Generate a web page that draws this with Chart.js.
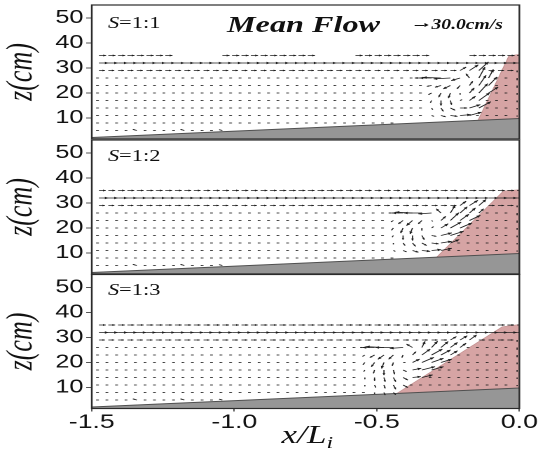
<!DOCTYPE html>
<html>
<head>
<meta charset="utf-8">
<script src="https://cdn.jsdelivr.net/npm/chart.js@4"></script>
<style>
html, body { margin: 0; padding: 0; background: #fff; overflow: hidden; }
/* the whole figure is laid out 384px wide and widened to 538px */
#fig { position: absolute; left: 0; top: 0; width: 384px; height: 450px;
       transform: scaleX(1.40104); transform-origin: 0 0; }
#fig canvas { position: absolute; left: 0; }
.lbl { position: absolute; white-space: nowrap; line-height: 1; color: #111;
       font-family: 'Liberation Serif', 'Times New Roman', serif; }
/* scale arrow of the velocity key */
.key-shaft { position: absolute; left: 296px; top: 25px; width: 7px; height: 0; border-top: 1px solid #111; }
.key-head { position: absolute; left: 302.5px; top: 23.3px; width: 0; height: 0;
            border-top: 2.2px solid transparent; border-bottom: 2.2px solid transparent; border-left: 3px solid #111; }
</style>
</head>
<body>
<div id="fig">
  <canvas id="p1" width="384" height="146" style="top:0px"></canvas>
  <canvas id="p2" width="384" height="146" style="top:135px"></canvas>
  <canvas id="p3" width="384" height="181" style="top:269px"></canvas>

  <div class="lbl" style="left:162px;top:12.7px;font-size:23px;font-weight:bold;font-style:italic">Mean Flow</div>
  <div class="key-shaft"></div>
  <div class="key-head"></div>
  <div class="lbl" style="left:308px;top:18.3px;font-size:14px;font-weight:bold;font-style:italic">30.0cm/s</div>

  <div class="lbl" style="left:77px;top:14.6px;font-size:16px"><i>S</i>=1:1</div>
  <div class="lbl" style="left:77px;top:147.6px;font-size:16px"><i>S</i>=1:2</div>
  <div class="lbl" style="left:77px;top:281.6px;font-size:16px"><i>S</i>=1:3</div>

  <div class="lbl" style="left:201px;top:422.4px;font-size:25px;font-style:italic">x/L<sub style="font-size:17px;vertical-align:-5px;line-height:1">i</sub></div>
</div>

<script>
// measuring grid: columns in x/L_i, rows in cm above the flume floor
var xCols = [-1.475, -1.442, -1.408, -1.375, -1.342, -1.308, -1.275, -1.242, -1.208,
             -1.175, -1.142, -1.108, -1.075, -1.042, -1.008, -0.975, -0.942, -0.908,
             -0.875, -0.842, -0.808, -0.775, -0.742, -0.708, -0.675, -0.642, -0.608,
             -0.575, -0.542, -0.508, -0.475, -0.442, -0.408, -0.375, -0.342, -0.308,
             -0.275, -0.242, -0.208, -0.175, -0.142, -0.108, -0.075, -0.042, -0.008];
var zRows = [35, 32, 29, 26, 23, 20, 17, 14, 11, 8, 5];

var xTicks = [-1.5, -1.0, -0.5, 0.0];
var zTicks = [10, 20, 30, 40, 50];

// sloping bed
var bedX = [-1.5, 0.0];
var bedZ = [2.2, 9.8];

// structure outline (toe, crest seaward, crest landward, heel)
var structX1 = [-0.145, -0.037, 0.0, 0.0];
var structZ1 = [9.07, 34.8, 35.5, 9.8];
var structX2 = [-0.29, -0.056, 0.0, 0.0];
var structZ2 = [8.33, 34.8, 35.3, 9.8];
var structX3 = [-0.43, -0.06, 0.0, 0.0];
var structZ3 = [7.62, 34.3, 35.2, 9.8];

// mean horizontal velocity away from the structure, one value per row (cm/s)
var rowU1 = [18, 24, 15, -7, -7, -7, -7, -7, -7, -7, -7];
var rowU2 = [17, 24, 15, -7, -7, -7, -7, -7, -7, -7, -7];
var rowU3 = [17, 24, 15, -7, -7, -7, -7, -7, -7, -7, -7];

// stretches of the top row that stay dry (x/L_i)
var dry1 = [[-1.22, -1.06], [-0.72, -0.60], [-0.32, -0.20]];
var dry2 = [];
var dry3 = [];

// measured vectors near the bed ripples and around the eddy: [column, row, u, w]
var nearBed = [[4, 10, -10, 4], [9, 10, -10, 4], [13, 10, -8, 3]];

var wallCol = [[44, 2, 0, -6], [44, 3, 0, -8], [44, 4, 0, -8], [44, 5, 0, -6], [44, 6, 0, -6], [44, 7, 0, -5], [44, 8, 0, -4]];

var eddy1 = [
  [38, 2, 15, 12], [39, 2, 22, 20], [40, 2, 24, 30],
  [34, 3, -18, 0], [35, 3, -30, 0], [36, 3, -45, 2], [37, 3, -42, -3], [38, 3, -22, -9], [39, 3, -9, 15], [40, 3, 15, 38], [41, 3, 12, 30],
  [35, 4, -12, -3], [36, 4, -15, -6], [37, 4, -18, -12], [38, 4, -8, -12], [39, 4, 8, 15], [40, 4, 18, 36], [41, 4, 21, 30],
  [35, 5, -8, -6], [36, 5, -6, -15], [37, 5, -5, -18], [38, 5, 0, -6], [39, 5, 12, 18], [40, 5, 22, 33], [41, 5, 24, 21],
  [35, 6, -3, -8], [36, 6, 0, -18], [37, 6, 3, -15], [38, 6, 5, 3], [39, 6, 15, 15], [40, 6, 27, 27],
  [35, 7, 3, -6], [36, 7, 6, -12], [37, 7, 12, -8], [38, 7, 18, 0], [39, 7, 27, 12], [40, 7, 30, 22],
  [35, 8, 6, -3], [36, 8, 12, -5], [37, 8, 18, -3], [38, 8, 27, 3], [39, 8, 30, 12]
];

var eddy2 = [
  [38, 2, 15, 15], [39, 2, 21, 18], [40, 2, 18, 21],
  [31, 3, -12, 0], [32, 3, -27, 0], [33, 3, -42, 3], [34, 3, -45, 0], [35, 3, -33, -3], [36, 3, -12, 15], [37, 3, 12, 27], [38, 3, 18, 22], [39, 3, 15, 18], [40, 3, 12, 15],
  [31, 4, -6, -5], [32, 4, -12, -12], [33, 4, -15, -18], [34, 4, -9, -12], [35, 4, 3, -3], [36, 4, 12, 15], [37, 4, 21, 27], [38, 4, 22, 22], [39, 4, 27, 18],
  [31, 5, -5, -8], [32, 5, -6, -18], [33, 5, -6, -21], [34, 5, 0, -9], [35, 5, 5, 5], [36, 5, 18, 15], [37, 5, 27, 21], [38, 5, 30, 18],
  [31, 6, -3, -6], [32, 6, 0, -15], [33, 6, 0, -18], [34, 6, 6, -15], [35, 6, 12, -3], [36, 6, 27, 9], [37, 6, 33, 15],
  [31, 7, 0, -5], [32, 7, 5, -9], [33, 7, 8, -12], [34, 7, 12, -9], [35, 7, 18, -3], [36, 7, 27, 6], [37, 7, 22, 12],
  [31, 8, 5, -3], [32, 8, 9, -5], [33, 8, 15, -6], [34, 8, 21, -3], [35, 8, 24, 3], [36, 8, 27, 8]
];

var eddy3 = [
  [37, 2, 15, 12], [38, 2, 18, 15], [39, 2, 18, 18],
  [28, 3, -12, 0], [29, 3, -30, 0], [30, 3, -45, 3], [31, 3, -45, 0], [32, 3, -33, -3], [33, 3, -15, 12], [34, 3, 8, 22], [35, 3, 15, 22], [36, 3, 18, 21], [37, 3, 18, 18], [38, 3, 15, 15],
  [28, 4, -6, -5], [29, 4, -12, -9], [30, 4, -15, -15], [31, 4, -12, -15], [32, 4, -3, -9], [33, 4, 9, 12], [34, 4, 21, 21], [35, 4, 27, 21], [36, 4, 24, 18], [37, 4, 18, 15],
  [28, 5, -5, -8], [29, 5, -8, -15], [30, 5, -6, -21], [31, 5, -3, -12], [32, 5, 6, 0], [33, 5, 18, 12], [34, 5, 30, 18], [35, 5, 30, 15], [36, 5, 27, 12],
  [28, 6, -3, -6], [29, 6, -3, -12], [30, 6, 0, -18], [31, 6, 3, -15], [32, 6, 9, -6], [33, 6, 22, 6], [34, 6, 33, 12], [35, 6, 30, 12],
  [28, 7, 0, -6], [29, 7, 0, -12], [30, 7, 3, -15], [31, 7, 6, -15], [32, 7, 12, -9], [33, 7, 21, 3], [34, 7, 27, 9],
  [28, 8, 0, -5], [29, 8, 3, -9], [30, 8, 3, -12], [31, 8, 6, -15], [32, 8, 12, -9],
  [29, 9, 0, -5], [30, 9, 3, -9], [31, 9, 6, -8]
];

// px of arrow per cm/s (30 cm/s key arrow)
var ARROW_SCALE = 0.2855;

Chart.defaults.font.family = "'Liberation Sans', Arial, sans-serif";

function bedAt(x) {
    return bedZ[0] + (x - bedX[0]) * (bedZ[1] - bedZ[0]) / (bedX[1] - bedX[0]);
}

function toPoints(xs, zs) {
    return xs.map(function(x, i) { return { x: x, y: zs[i] }; });
}

function buildVectors(rowU, dry, eddy) {
    var over = {};
    nearBed.concat(wallCol, eddy).forEach(function(e) { over[e[0] + ',' + e[1]] = e; });
    var pts = [];
    zRows.forEach(function(z, j) {
        xCols.forEach(function(x, i) {
            if (z < bedAt(x) + 0.4) return;
            if (j === 0 && dry.some(function(g) { return x > g[0] && x < g[1]; })) return;
            var e = over[i + ',' + j];
            pts.push({ x: x, y: z, u: e ? e[2] : rowU[j], w: e ? e[3] : 0 });
        });
    });
    return pts;
}

var framePlugin = {
    id: 'frame',
    afterDraw: function(chart) {
        var a = chart.chartArea, ctx = chart.ctx;
        ctx.save();
        ctx.strokeStyle = '#2b2b2b';
        ctx.lineWidth = 1.2;
        ctx.strokeRect(a.left, a.top, a.right - a.left, a.bottom - a.top);
        ctx.restore();
    }
};

// draws an arrow at every point of the vector dataset
var quiverPlugin = {
    id: 'quiver',
    afterDatasetsDraw: function(chart) {
        var a = chart.chartArea, ctx = chart.ctx;
        var ds = chart.data.datasets[2];
        var meta = chart.getDatasetMeta(2);
        ctx.save();
        ctx.beginPath();
        ctx.rect(a.left, a.top, a.right - a.left, a.bottom - a.top);
        ctx.clip();
        ctx.strokeStyle = '#1e1e1e';
        ctx.fillStyle = '#1e1e1e';
        ctx.lineWidth = 0.8;
        meta.data.forEach(function(pt, i) {
            var v = ds.data[i];
            var dx = v.u * ARROW_SCALE, dy = -v.w * ARROW_SCALE;
            var len = Math.sqrt(dx * dx + dy * dy);
            if (len < 0.3) return;
            var x1 = pt.x + dx, y1 = pt.y + dy;
            ctx.beginPath();
            ctx.moveTo(pt.x, pt.y);
            ctx.lineTo(x1, y1);
            ctx.stroke();
            var hl = Math.min(2.6, len * 0.4), hw = hl * 0.5;
            var ux = dx / len, uy = dy / len;
            ctx.beginPath();
            ctx.moveTo(x1, y1);
            ctx.lineTo(x1 - ux * hl - uy * hw, y1 - uy * hl + ux * hw);
            ctx.lineTo(x1 - ux * hl + uy * hw, y1 - uy * hl - ux * hw);
            ctx.closePath();
            ctx.fill();
        });
        ctx.restore();
    }
};

function makePanel(id, sx, sz, rowU, dry, eddy, showX) {
    var shape = toPoints(sx, sz);
    shape.push(shape[0]);
    var xScale = {
        type: 'linear', min: -1.5, max: 0, display: showX,
        afterBuildTicks: function(s) { s.ticks = xTicks.map(function(v) { return { value: v }; }); },
        afterFit: function(s) {
            s.paddingLeft = 0;
            s.paddingRight = 0;
            if (showX) s.height = 36;
        },
        ticks: {
            font: { size: 19 }, color: '#111', padding: 0, maxRotation: 0, autoSkip: false,
            callback: function(v) { return Number(v).toFixed(1); }
        },
        grid: { drawOnChartArea: false, tickLength: 3, color: '#555' },
        border: { display: false }
    };

    new Chart(document.getElementById(id), {
        type: 'scatter',
        data: {
            datasets: [
                {
                    data: toPoints(bedX, bedZ), showLine: true, fill: 'start',
                    backgroundColor: '#969696', borderColor: '#505050', borderWidth: 1,
                    pointRadius: 0, order: 1
                },
                {
                    data: shape, showLine: true, fill: 'shape',
                    backgroundColor: '#d6a4a4', borderColor: '#c08d8d', borderWidth: 0.6,
                    pointRadius: 0, order: 2
                },
                {
                    data: buildVectors(rowU, dry, eddy), pointRadius: 0, order: 0
                }
            ]
        },
        options: {
            responsive: false,
            animation: false,
            devicePixelRatio: 2,
            events: [],
            layout: { padding: { left: 0, right: 13.3, top: showX ? 5.5 : 5, bottom: showX ? 5.5 : 7 } },
            plugins: { legend: { display: false }, tooltip: { enabled: false } },
            scales: {
                x: xScale,
                y: {
                    type: 'linear', min: 1.6, max: 55.2,
                    afterFit: function(s) {
                        s.width = 65.5;
                        s.paddingTop = 0;
                        s.paddingBottom = 0;
                    },
                    afterBuildTicks: function(s) { s.ticks = zTicks.map(function(v) { return { value: v }; }); },
                    ticks: { font: { size: 18 }, color: '#111', padding: 2 },
                    grid: { drawOnChartArea: false, tickLength: 4, color: '#555' },
                    border: { display: false },
                    title: {
                        display: true, text: 'z(cm)', color: '#111', padding: 0,
                        font: { family: "'Liberation Serif', 'Times New Roman', serif", size: 26, style: 'italic' }
                    }
                }
            }
        },
        plugins: [quiverPlugin, framePlugin]
    });
}

makePanel('p1', structX1, structZ1, rowU1, dry1, eddy1, false);
makePanel('p2', structX2, structZ2, rowU2, dry2, eddy2, false);
makePanel('p3', structX3, structZ3, rowU3, dry3, eddy3, true);
</script>
</body>
</html>
